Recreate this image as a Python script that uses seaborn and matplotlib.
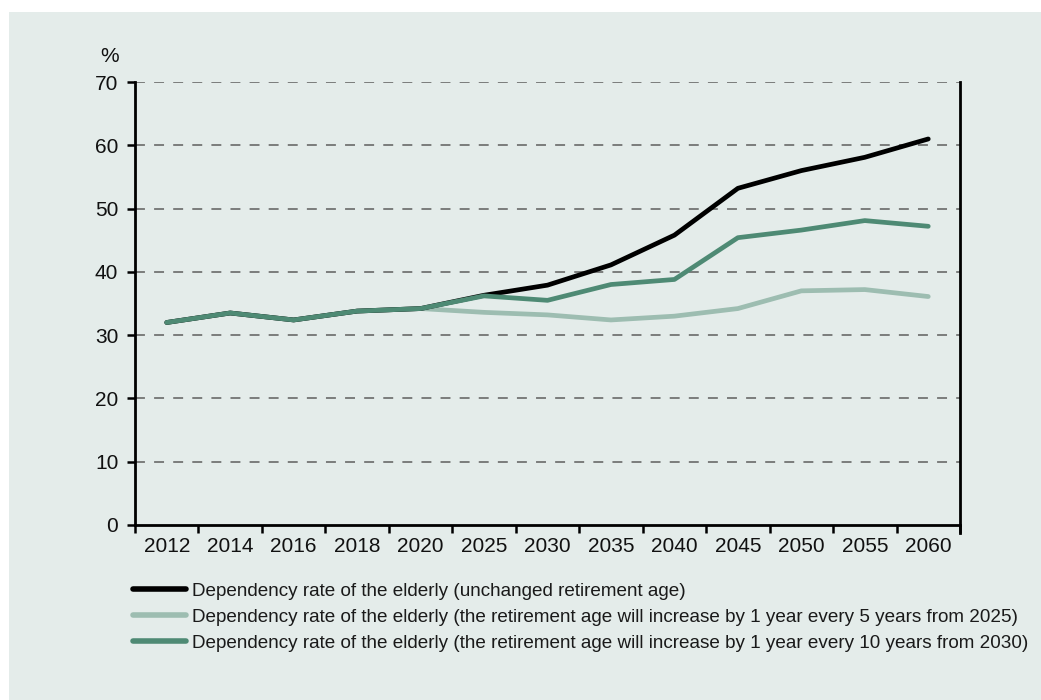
import matplotlib
matplotlib.use("Agg")
import matplotlib.pyplot as plt
from matplotlib.patches import Rectangle
from matplotlib.lines import Line2D
from matplotlib.ticker import FixedLocator, NullFormatter
import seaborn as sns
import pandas as pd

years = ["2012", "2014", "2016", "2018", "2020", "2025", "2030",
         "2035", "2040", "2045", "2050", "2055", "2060"]
unchanged = [32.0, 33.5, 32.4, 33.8, 34.2, 36.3, 37.9, 41.1, 45.8, 53.2, 56.0, 58.1, 61.0]
every5 = [32.0, 33.5, 32.4, 33.8, 34.2, 33.6, 33.2, 32.4, 33.0, 34.2, 37.0, 37.2, 36.1]
every10 = [32.0, 33.5, 32.4, 33.8, 34.2, 36.2, 35.5, 38.0, 38.8, 45.4, 46.6, 48.1, 47.2]
labels = [
    "Dependency rate of the elderly (unchanged retirement age)",
    "Dependency rate of the elderly (the retirement age will increase by 1 year every 5 years from 2025)",
    "Dependency rate of the elderly (the retirement age will increase by 1 year every 10 years from 2030)",
]
colors = ["#000000", "#9dbdb1", "#4e8a74"]
yticks = [0, 10, 20, 30, 40, 50, 60, 70]

sns.set_theme(style="white")
plt.rcParams["font.family"] = ["Liberation Sans", "DejaVu Sans"]

BG = "#e4ecea"
W, H = 1041, 700
fig = plt.figure(figsize=(W / 100, H / 100), dpi=100, facecolor="white")
fig.patches.append(Rectangle((9 / W, 0), 1, 1 - 12 / H, transform=fig.transFigure,
                             facecolor=BG, edgecolor="none", zorder=-10))

ax = fig.add_axes([135 / W, (H - 525) / H, (960 - 135) / W, (525 - 82) / H])
ax.set_facecolor(BG)

df = pd.DataFrame({"year": years * 3,
                   "value": unchanged + every5 + every10,
                   "series": [labels[0]] * 13 + [labels[1]] * 13 + [labels[2]] * 13})

order = [1, 0, 2]
for i in order:
    sub = df[df["series"] == labels[i]]
    sns.lineplot(data=sub, x="year", y="value", ax=ax, color=colors[i], lw=3.4,
                 sort=False, solid_capstyle="round", solid_joinstyle="round",
                 legend=False, zorder=3 + order.index(i))

ax.set_xlim(-0.5, len(years) - 0.5)
ax.set_ylim(0, 70)
ax.set_yticks(yticks)
ax.set_yticklabels([str(t) for t in yticks], fontsize=15, color="#111111")
ax.set_xticks(range(len(years)))
ax.set_xticklabels(years, fontsize=15, color="#111111")
ax.tick_params(axis="x", which="major", length=0, pad=9)
ax.xaxis.set_minor_locator(FixedLocator([i - 0.5 for i in range(len(years) + 1)]))
ax.xaxis.set_minor_formatter(NullFormatter())
ax.tick_params(axis="x", which="minor", bottom=True, length=6, width=1.8, color="black", direction="out")
ax.tick_params(axis="y", which="major", left=True, length=6, width=1.8, color="black", direction="out", pad=6)
ax.set_xlabel("")
ax.set_ylabel("")

for t in yticks[1:]:
    ax.axhline(t, color="#5e5e5e", lw=1.1, ls=(0, (6.5, 6)), zorder=1)

for s in ["left", "bottom", "right"]:
    ax.spines[s].set_visible(True)
    ax.spines[s].set_color("black")
    ax.spines[s].set_linewidth(2)
ax.spines["top"].set_visible(False)
ax.spines["right"].set_bounds(-1.3, 70)
ax.spines["right"].set_clip_on(False)

fig.text(110 / W, 1 - 57 / H, "%", fontsize=15, ha="center", va="center", color="#111111")

handles = [Line2D([], [], color=colors[i], lw=4, solid_capstyle="round") for i in range(3)]
leg = fig.legend(handles, labels, loc="upper left", bbox_to_anchor=(125 / W, 1 - 575 / H),
                 frameon=False, handlelength=2.85, handletextpad=0.3, labelspacing=0.47,
                 prop={"size": 13.6}, borderaxespad=0)
for t in leg.get_texts():
    t.set_color("#1a1a1a")

fig.savefig("out.png", dpi=100, facecolor=fig.get_facecolor())
